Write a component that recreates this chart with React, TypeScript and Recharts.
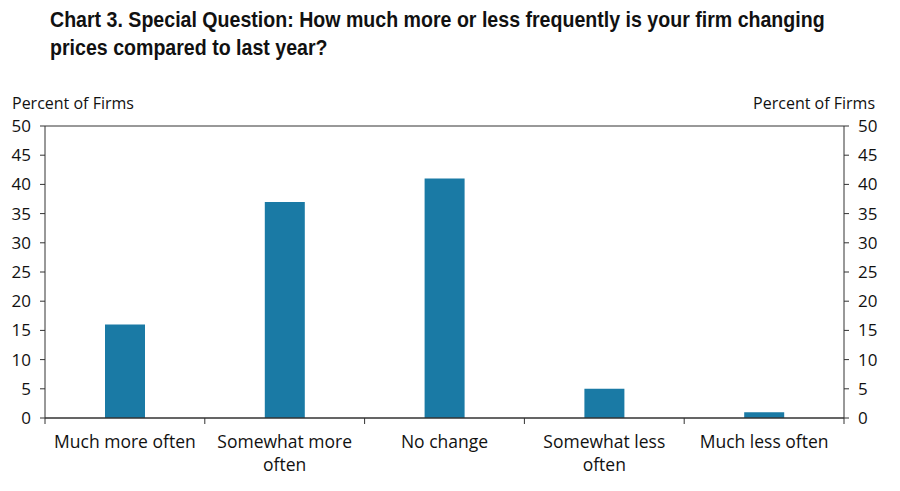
import React from 'react';
import { BarChart, Bar, XAxis, YAxis, ReferenceLine } from 'recharts';

const categories = ['Much more often', 'Somewhat more\noften', 'No change', 'Somewhat less\noften', 'Much less often'];
const percentOfFirms = [16, 37, 41, 5, 1];
const yTicks = [0, 5, 10, 15, 20, 25, 30, 35, 40, 45, 50];

const data = categories.map((name, i) => ({ name, value: percentOfFirms[i] }));

const FONT = '"Open Sans", "DejaVu Sans", sans-serif';
const AXIS = '#333';
const BAND = 799 / categories.length;

const CategoryTick = (props: any) => {
  const { x, y, payload, index } = props;
  const lines = String(payload.value).split('\n');
  return (
    <g>
      <line x1={x - BAND / 2} x2={x - BAND / 2} y1={y - 8} y2={y - 2} stroke={AXIS} strokeWidth={1} />
      {index === categories.length - 1 && (
        <line x1={x + BAND / 2} x2={x + BAND / 2} y1={y - 8} y2={y - 2} stroke={AXIS} strokeWidth={1} />
      )}
      <text x={x} y={y + 22} textAnchor="middle" fontFamily={FONT} fontSize={17.5} fill="#111">
        {lines.map((l, i) => (
          <tspan key={i} x={x} dy={i === 0 ? 0 : 23}>{l}</tspan>
        ))}
      </text>
    </g>
  );
};

const App: React.FC = () => {
  return (
    <div style={{ position: 'absolute', left: 0, top: 0, width: 900, height: 491, background: '#fff' }}>
      <div
        style={{
          position: 'absolute',
          left: 50,
          top: 6,
          fontFamily: '"Liberation Sans", Arial, sans-serif',
          fontWeight: 'bold',
          fontSize: 22,
          lineHeight: '28px',
          color: '#111',
          whiteSpace: 'nowrap',
          transform: 'scaleX(0.89)',
          transformOrigin: 'left top',
        }}
      >
        Chart 3. Special Question: How much more or less frequently is your firm changing
        <br />
        prices compared to last year?
      </div>
      <div style={{ position: 'absolute', left: 12, top: 92, fontFamily: FONT, fontSize: 16, color: '#111' }}>
        Percent of Firms
      </div>
      <div style={{ position: 'absolute', right: 25, top: 92, fontFamily: FONT, fontSize: 16, color: '#111' }}>
        Percent of Firms
      </div>
      <BarChart
        width={900}
        height={491}
        data={data}
        margin={{ top: 126, right: 0, left: 0, bottom: 13 }}
      >
        <XAxis
          dataKey="name"
          stroke={AXIS}
          tickLine={false}
          tick={<CategoryTick />}
          interval={0}
          height={60}
        />
        <YAxis
          yAxisId="left"
          orientation="left"
          type="number"
          domain={[0, 50]}
          ticks={yTicks}
          width={45}
          stroke={AXIS}
          tickSize={5}
          tickMargin={9}
          tick={{ fill: '#111', fontSize: 17, fontFamily: FONT }}
        />
        <YAxis
          yAxisId="right"
          orientation="right"
          type="number"
          domain={[0, 50]}
          ticks={yTicks}
          width={56}
          stroke={AXIS}
          tickSize={5}
          tickMargin={9}
          tick={{ fill: '#111', fontSize: 17, fontFamily: FONT }}
        />
        <ReferenceLine yAxisId="left" y={50} stroke={AXIS} strokeWidth={1} />
        <ReferenceLine yAxisId="right" y={0} stroke={AXIS} strokeWidth={1} ifOverflow="extendDomain" />
        <Bar yAxisId="left" dataKey="value" fill="#1a7aa5" barSize={40} isAnimationActive={false} />
      </BarChart>
    </div>
  );
};

export default App;
